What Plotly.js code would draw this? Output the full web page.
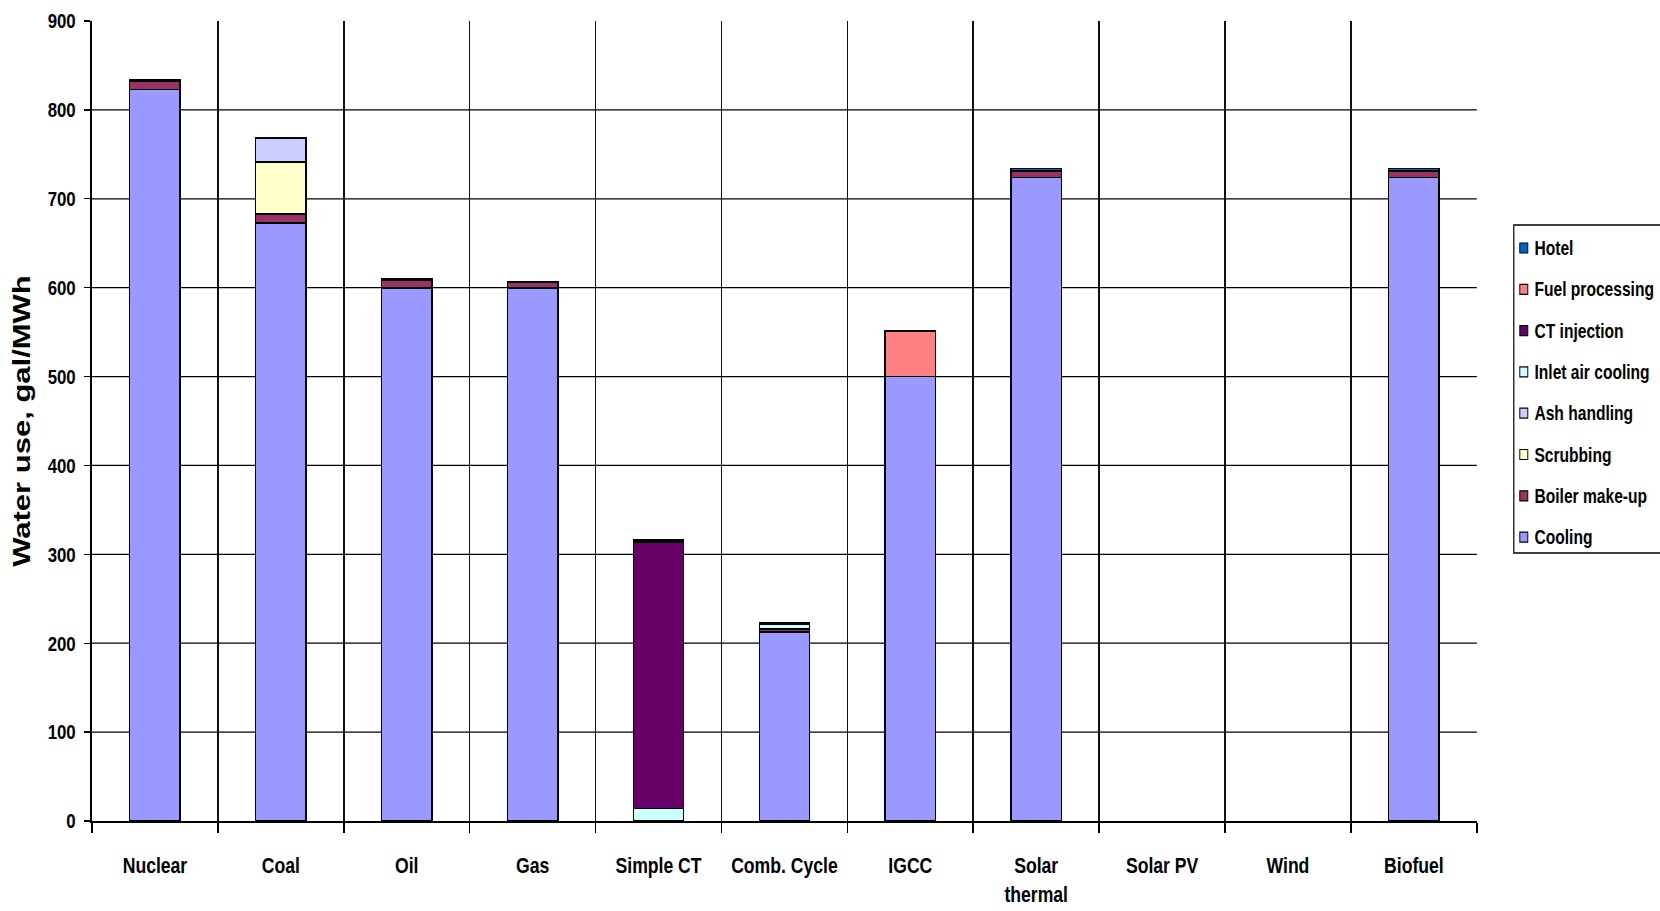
<!DOCTYPE html>
<html>
<head>
<meta charset="utf-8">
<script src="https://cdn.plot.ly/plotly-3.0.1.min.js"></script>
<style>
  html, body { margin: 0; padding: 0; background: #fff; overflow: hidden; }
  #frame { width: 1660px; height: 911px; overflow: hidden; position: relative; }
  /* the chart is laid out wide and condensed horizontally, giving narrow bold lettering */
  #chart { width: 2075px; height: 911px; transform: scaleX(0.8); transform-origin: 0 0; }
</style>
</head>
<body>
<div id="frame"><div id="chart"></div></div>
<script>
// Power generation technologies
const categories = ['Nuclear', 'Coal', 'Oil', 'Gas', 'Simple CT', 'Comb. Cycle', 'IGCC',
                    'Solar thermal', 'Solar PV', 'Wind', 'Biofuel'];
const tickLabels = ['Nuclear', 'Coal', 'Oil', 'Gas', 'Simple CT', 'Comb. Cycle', 'IGCC',
                    'Solar<br>thermal', 'Solar PV', 'Wind', 'Biofuel'];

// Water use by purpose, gal/MWh (null = not used)
const cooling         = [823, 673, 600, 600, null, 213, 500, 724, null, null, 724];
const boilerMakeup    = [9, 10, 8, 6, null, 3, null, 7, null, null, 7];
const scrubbing       = [null, 58, null, null, null, null, null, null, null, null, null];
const ashHandling     = [null, 27, null, null, null, null, null, null, null, null, null];
const inletAirCooling = [null, null, null, null, 14, 5, null, null, null, null, null];
const ctInjection     = [null, null, null, null, 300, null, null, null, null, null, null];
const fuelProcessing  = [null, null, null, null, null, null, 51, null, null, null, null];
const hotel           = [2, 1, 2, 1, 2, 2, null, 3, null, null, 3];

const seriesNames = ['Cooling', 'Boiler make-up', 'Scrubbing', 'Ash handling',
                     'Inlet air cooling', 'CT injection', 'Fuel processing', 'Hotel'];
const seriesValues = [cooling, boilerMakeup, scrubbing, ashHandling,
                      inletAirCooling, ctInjection, fuelProcessing, hotel];
const seriesColors = ['#9999FF', '#993366', '#FFFFCC', '#CCCCFF',
                      '#CCFFFF', '#660066', '#FF8080', '#0066CC'];

const FONT = '"Liberation Sans", Arial, Helvetica, sans-serif';
const SX = 0.8;                 // horizontal condensing of the chart
const W = 2075, H = 911;        // layout size before condensing

const traces = seriesNames.map((name, i) => ({
  type: 'bar',
  name: name,
  x: categories,
  y: seriesValues[i],
  marker: { color: seriesColors[i], line: { color: '#000', width: 1.8 } },
  showlegend: false,
  hoverinfo: 'x+y+name'
}));

// Plot area in on-screen pixels
const L = 92, R = 1477, T = 21, B = 821;
const px = v => (v - L) / (R - L);
const py = v => (B - v) / (B - T);

const shapes = [];
const annotations = [];

// Legend frame
shapes.push({
  type: 'rect', xref: 'paper', yref: 'paper',
  x0: px(1514), x1: px(1672), y0: py(553), y1: py(225),
  line: { color: '#000', width: 1.5 }, fillcolor: 'rgba(0,0,0,0)', layer: 'above'
});

// Legend entries, top to bottom: last stacked series first
const order = seriesNames.map((_, i) => i).reverse();
order.forEach((si, k) => {
  const cy = 248 + k * 41.3;
  shapes.push({
    type: 'rect', xref: 'paper', yref: 'paper',
    x0: px(1520), x1: px(1528), y0: py(cy + 5), y1: py(cy - 5),
    line: { color: '#000', width: 1.2 }, fillcolor: seriesColors[si], layer: 'above'
  });
  annotations.push({
    xref: 'paper', yref: 'paper', x: px(1533), y: py(cy),
    xanchor: 'left', yanchor: 'middle', showarrow: false,
    text: seriesNames[si],
    font: { family: FONT, size: 19.5, color: '#000', weight: 'bold' }
  });
});

const layout = {
  width: W,
  height: H,
  margin: { l: L / SX, r: W - R / SX, t: T, b: H - B },
  paper_bgcolor: '#fff',
  plot_bgcolor: '#fff',
  barmode: 'stack',
  bargap: 0.6,
  showlegend: false,
  xaxis: {
    type: 'category',
    tickvals: categories,
    ticktext: tickLabels,
    tickangle: 0,
    tickson: 'boundaries',
    ticks: 'outside',
    ticklen: 10,
    tickwidth: 2,
    tickcolor: '#000',
    ticklabelstandoff: 24,
    showgrid: true,
    gridcolor: '#111',
    gridwidth: 2,
    showline: true,
    linecolor: '#000',
    linewidth: 2,
    tickfont: { family: FONT, size: 22, color: '#000', weight: 'bold' },
    fixedrange: true
  },
  yaxis: {
    range: [0, 900],
    dtick: 100,
    ticks: 'outside',
    ticklen: 8,
    tickwidth: 1.3,
    tickcolor: '#000',
    ticklabelstandoff: 6,
    showgrid: true,
    gridcolor: '#000',
    gridwidth: 1.2,
    zeroline: false,
    showline: true,
    linecolor: '#000',
    linewidth: 2.2,
    tickfont: { family: FONT, size: 21, color: '#000', weight: 'bold' },
    title: {
      text: 'Water use, gal/MWh',
      font: { family: FONT, size: 31, color: '#000', weight: 'bold' },
      standoff: 12
    },
    fixedrange: true
  },
  shapes: shapes,
  annotations: annotations
};

Plotly.newPlot('chart', traces, layout, { displayModeBar: false, staticPlot: true });
</script>
</body>
</html>
